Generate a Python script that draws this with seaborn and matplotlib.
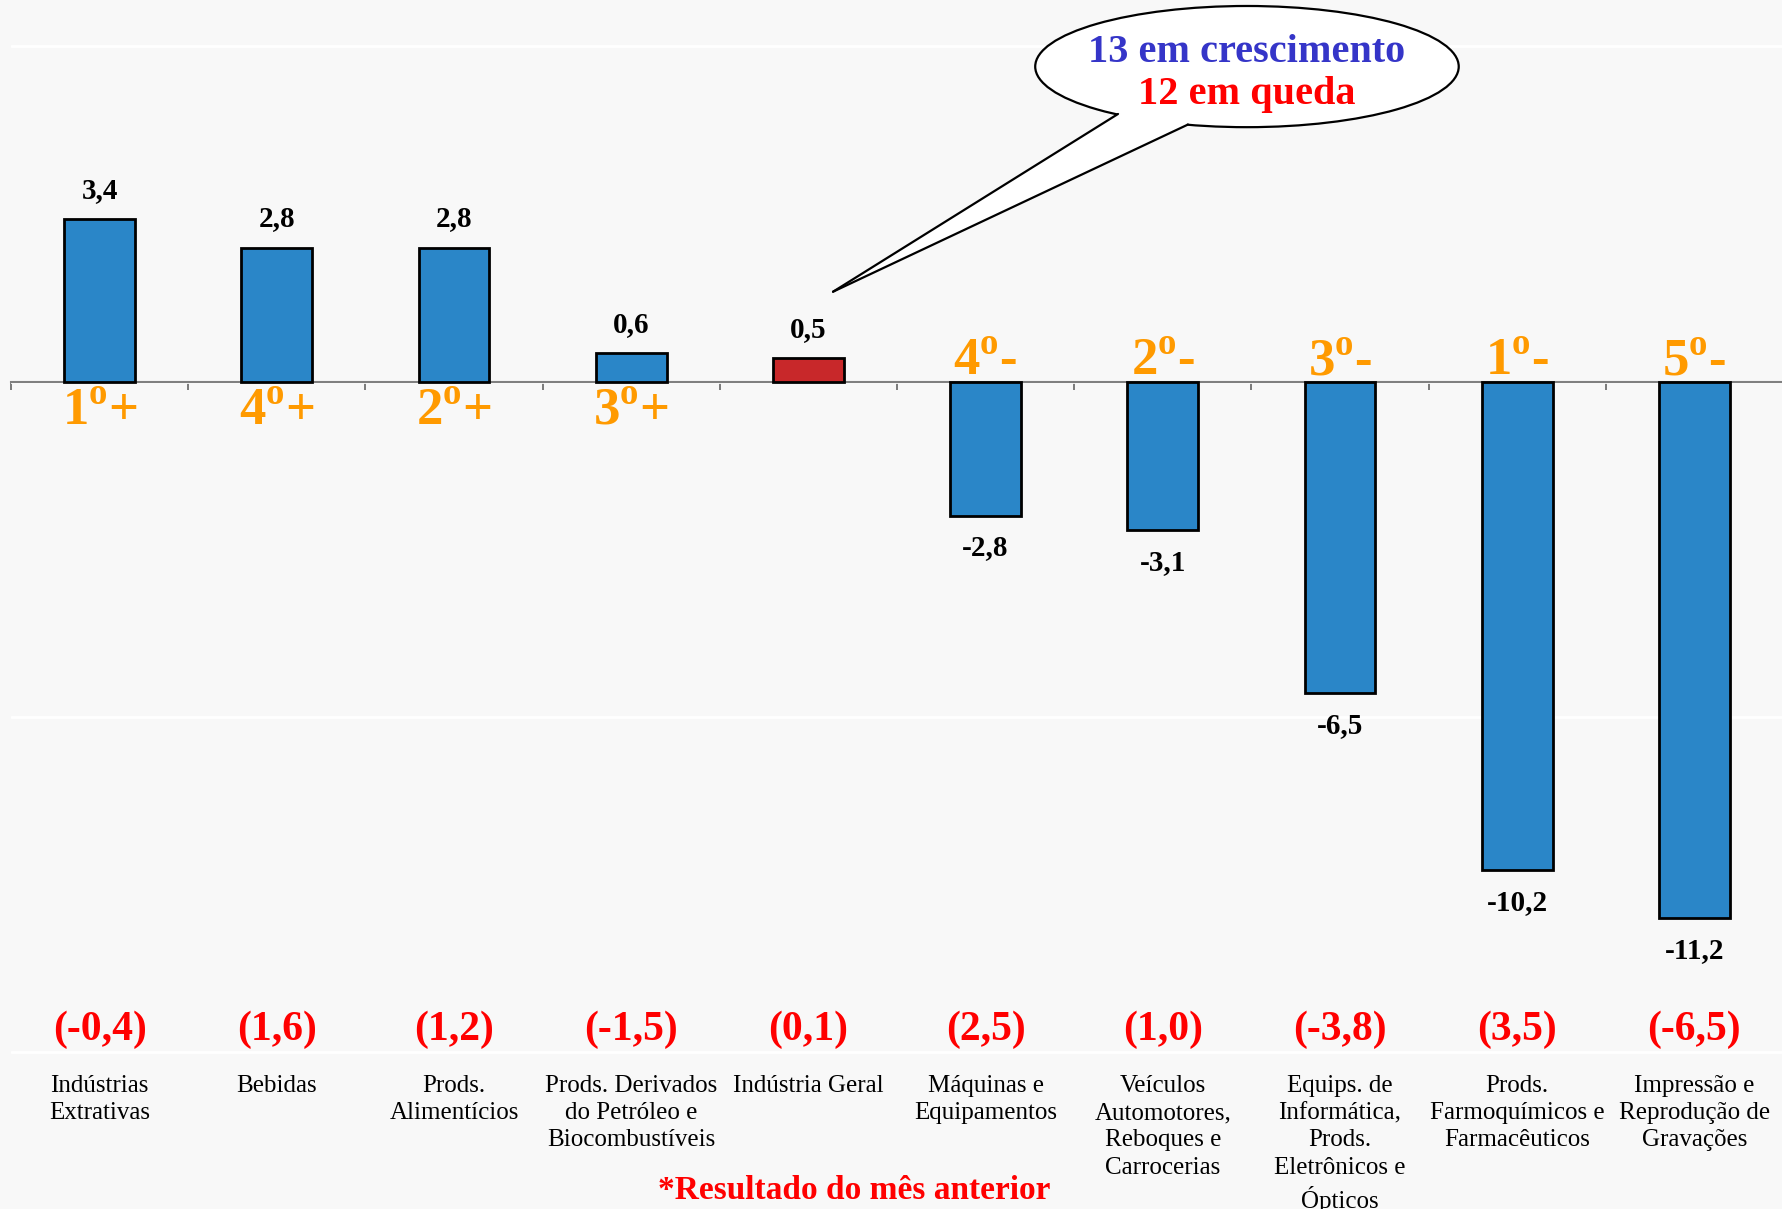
import numpy as np
import pandas as pd
import matplotlib
matplotlib.use("Agg")
import matplotlib.pyplot as plt
import seaborn as sns
from matplotlib.patches import Ellipse, Polygon

# ---------------- data ----------------
categories = [
    "Indústrias\nExtrativas",
    "Bebidas",
    "Prods.\nAlimentícios",
    "Prods. Derivados\ndo Petróleo e\nBiocombustíveis",
    "Indústria Geral",
    "Máquinas e\nEquipamentos",
    "Veículos\nAutomotores,\nReboques e\nCarrocerias",
    "Equips. de\nInformática,\nProds.\nEletrônicos e\nÓpticos",
    "Prods.\nFarmoquímicos e\nFarmacêuticos",
    "Impressão e\nReprodução de\nGravações",
]
values = [3.4, 2.8, 2.8, 0.6, 0.5, -2.8, -3.1, -6.5, -10.2, -11.2]
prev_month = [-0.4, 1.6, 1.2, -1.5, 0.1, 2.5, 1.0, -3.8, 3.5, -6.5]
rank_numbers = ["1", "4", "2", "3", "", "4", "2", "3", "1", "5"]
rank_signs = ["+", "+", "+", "+", "", "-", "-", "-", "-", "-"]
bar_colors = ["#2A86C8"] * 4 + ["#C8282A"] + ["#2A86C8"] * 5
callout_lines = ["13 em crescimento", "12 em queda"]
footnote = "*Resultado do mês anterior"

# ---------------- style ----------------
sns.set_style("white")
plt.rcParams["font.family"] = ["Liberation Serif", "DejaVu Serif"]
plt.rcParams["mathtext.fontset"] = "custom"
plt.rcParams["mathtext.rm"] = "Liberation Serif"
plt.rcParams["mathtext.bf"] = "Liberation Serif:bold"

BG = "#F8F8F8"
ORANGE = "#FF9A00"
RED = "#FF0000"
BLUE_TXT = "#3535C8"

def fmt(v):
    return f"{v:.1f}".replace(".", ",")

df = pd.DataFrame({"categoria": categories, "variacao": values})

fig = plt.figure(figsize=(17.83, 12.09), dpi=100, facecolor=BG)
ax = fig.add_axes([11 / 1783, 0, 1 - 11 / 1783, 1])
ax.set_facecolor(BG)

sns.barplot(data=df, x="categoria", y="variacao", hue="categoria",
            palette=bar_colors, legend=False, width=0.4, saturation=1,
            edgecolor="black", linewidth=2, ax=ax, zorder=3)

ax.set_xlim(-0.5, 9.5)
ax.set_ylim(-17.27, 7.97)

# grid / axis
ax.set_yticks([-14, -7, 0, 7])
ax.set_yticklabels([])
ax.yaxis.grid(True, color="white", linewidth=2)
ax.set_axisbelow(True)
ax.tick_params(axis="y", length=0)
for s in ["top", "right", "left"]:
    ax.spines[s].set_visible(False)
ax.spines["bottom"].set_position(("data", 0))
ax.spines["bottom"].set_color("#808080")
ax.spines["bottom"].set_linewidth(1.5)
ax.spines["bottom"].set_zorder(2)
ax.set_xticks(np.arange(-0.5, 10, 1))
ax.set_xticklabels([])
ax.tick_params(axis="x", bottom=True, direction="out", length=6, width=1.3,
               color="#707070")
ax.set_xlabel("")
ax.set_ylabel("")

# value labels
for i, v in enumerate(values):
    y = v + 0.6 if v >= 0 else v - 0.67
    ax.text(i, y, fmt(v), ha="center", va="center", fontsize=21,
            fontweight="bold", color="black", zorder=6)

# ranking labels
for i, (r, s) in enumerate(zip(rank_numbers, rank_signs)):
    if not r:
        continue
    lab = rf"$\mathbf{{{r}}}^{{\mathbf{{o}}}}$" + s
    y = -0.62 if s == "+" else 0.42
    ax.text(i, y, lab, ha="center", va="center", fontsize=38,
            fontweight="bold", color=ORANGE, zorder=6)

# previous month results
for i, p in enumerate(prev_month):
    ax.text(i, -13.53, f"({fmt(p)})", ha="center", va="center", fontsize=30,
            fontweight="bold", color=RED)

# category labels
for i, c in enumerate(categories):
    ax.text(i, -14.47, c, ha="center", va="top", fontsize=18,
            color="black", linespacing=1.31)

ax.text(4.26, -16.88, footnote, ha="center", va="center", fontsize=24,
        fontweight="bold", color=RED)

# callout
ell = Ellipse((6.475, 6.58), 2.39, 2.53, facecolor="white", edgecolor="black",
              linewidth=1.6, zorder=7)
ax.add_patch(ell)
tip = (4.139, 1.88)
A = (5.747, 5.59)
B = (6.142, 5.37)
tail = Polygon([tip, A, (6.0, 6.0), B], closed=True, facecolor="white",
               edgecolor="none", zorder=8)
ax.add_patch(tail)
ax.plot([A[0], tip[0]], [A[1], tip[1]], color="black", lw=1.6, zorder=9,
        solid_capstyle="round")
ax.plot([B[0], tip[0]], [B[1], tip[1]], color="black", lw=1.6, zorder=9,
        solid_capstyle="round")
ax.text(6.475, 6.88, callout_lines[0], ha="center", va="center", fontsize=29,
        fontweight="bold", color=BLUE_TXT, zorder=10)
ax.text(6.475, 6.0, callout_lines[1], ha="center", va="center", fontsize=29,
        fontweight="bold", color=RED, zorder=10)

fig.savefig("out.png", dpi=100, facecolor=BG)
